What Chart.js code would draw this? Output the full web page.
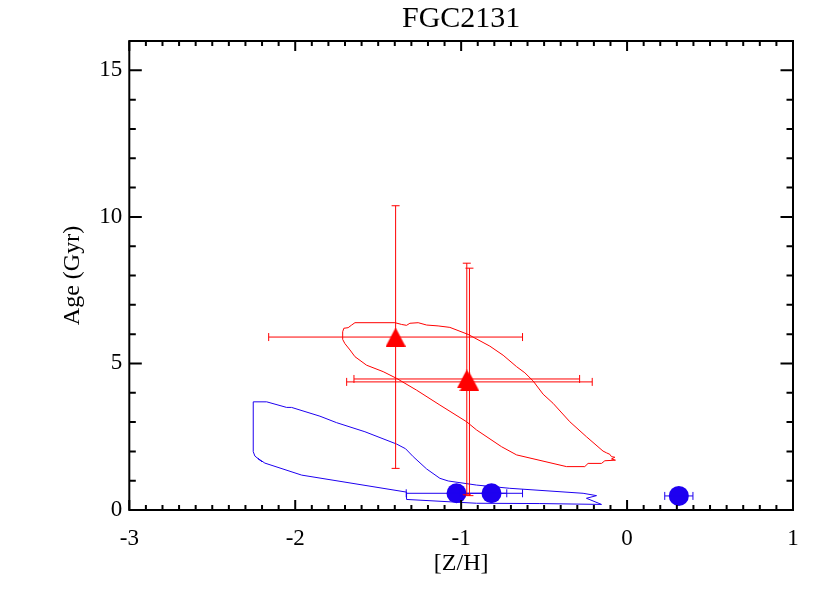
<!DOCTYPE html>
<html>
<head>
<meta charset="utf-8">
<script src="https://cdn.jsdelivr.net/npm/chart.js@4.4.0/dist/chart.umd.min.js"></script>
<style>
  html, body { margin: 0; padding: 0; background: #fff; }
  canvas { display: block; }
</style>
</head>
<body>
<canvas id="chart" width="830" height="593"></canvas>
<script>
// axis ticks
const xTicks = [-3, -2, -1, 0, 1];
const yTicks = [0, 5, 10, 15];

// red contour (closed)
const redContourX = [-1.640, -1.399, -1.359, -1.329, -1.309, -1.259, -1.208, -1.139, -1.068, -0.958,
  -0.827, -0.747, -0.666, -0.616, -0.566, -0.506, -0.446, -0.345, -0.245, -0.145,
  -0.124, -0.104, -0.094, -0.074, -0.094, -0.070, -0.134, -0.154, -0.235, -0.255,
  -0.365, -0.666, -0.757, -0.907, -0.967, -1.128, -1.269, -1.389, -1.470, -1.570,
  -1.640, -1.670, -1.701, -1.714, -1.714, -1.707, -1.681, -1.660, -1.640];
const redContourY = [6.39, 6.39, 6.33, 6.30, 6.37, 6.39, 6.31, 6.28, 6.23, 5.99,
  5.59, 5.28, 4.89, 4.68, 4.40, 3.95, 3.64, 3.01, 2.50, 2.01,
  1.95, 1.90, 1.82, 1.80, 1.74, 1.70, 1.68, 1.59, 1.59, 1.48,
  1.48, 1.88, 2.16, 2.73, 3.01, 3.58, 4.09, 4.49, 4.72, 4.94,
  5.23, 5.46, 5.68, 5.82, 6.08, 6.20, 6.22, 6.31, 6.39];

// blue contour (closed)
const blueContourX = [-2.253, -2.172, -2.052, -2.022, -1.851, -1.751, -1.580, -1.389, -1.335, -1.289,
  -1.208, -1.128, -1.078, -0.907, -0.707, -0.265, -0.184, -0.245, -0.154, -0.526,
  -0.907, -1.329, -1.329, -1.961, -2.183, -2.225, -2.201, -2.243, -2.253, -2.253];
const blueContourY = [3.69, 3.69, 3.50, 3.50, 3.20, 2.98, 2.67, 2.25, 2.09, 1.82,
  1.40, 1.08, 0.99, 0.85, 0.74, 0.57, 0.49, 0.40, 0.19, 0.22,
  0.23, 0.36, 0.61, 1.19, 1.60, 1.76, 1.65, 1.84, 1.99, 3.69];

// red triangles with errors
const triX = [-1.395, -0.966, -0.950];
const triY = [5.90, 4.47, 4.37];
const triXErr = [0.765, 0.68, 0.74];
const triYErr = [4.48, 3.95, 3.88];

// blue circles with errors
const circX = [-1.028, -0.817, 0.312];
const circY = [0.57, 0.57, 0.48];
const circXErr = [0.303, 0.187, 0.085];
const circYErr = [0, 0, 0];

const RED = '#ff0000';
const BLUE = '#1e00f0';
const FONT = 'Liberation Serif, Times New Roman, serif';

const pts = (xs, ys) => xs.map((v, i) => ({ x: v, y: ys[i] }));

// IDL-like filled triangle symbol (a bit taller than equilateral)
function triangleSymbol(w, h, color) {
  const c = document.createElement('canvas');
  c.width = w; c.height = h;
  const g = c.getContext('2d');
  g.fillStyle = color;
  g.beginPath();
  g.moveTo(w / 2, 0);
  g.lineTo(w, h);
  g.lineTo(0, h);
  g.closePath();
  g.fill();
  return c;
}

const errorBars = {
  id: 'errorBars',
  afterDatasetsDraw(chart) {
    const { ctx, scales: { x, y } } = chart;
    chart.data.datasets.forEach(ds => {
      if (!ds.errX) return;
      ctx.save();
      ctx.strokeStyle = ds.borderColor;
      ctx.lineWidth = 1;
      ds.data.forEach((p, i) => {
        const px = x.getPixelForValue(p.x);
        const py = y.getPixelForValue(p.y);
        const cap = 4;
        ctx.beginPath();
        if (ds.errX[i] > 0) {
          const x0 = x.getPixelForValue(p.x - ds.errX[i]);
          const x1 = x.getPixelForValue(p.x + ds.errX[i]);
          ctx.moveTo(x0, py); ctx.lineTo(x1, py);
          ctx.moveTo(x0, py - cap); ctx.lineTo(x0, py + cap);
          ctx.moveTo(x1, py - cap); ctx.lineTo(x1, py + cap);
        }
        if (ds.errY[i] > 0) {
          const y0 = y.getPixelForValue(p.y - ds.errY[i]);
          const y1 = y.getPixelForValue(p.y + ds.errY[i]);
          ctx.moveTo(px, y0); ctx.lineTo(px, y1);
          ctx.moveTo(px - cap, y0); ctx.lineTo(px + cap, y0);
          ctx.moveTo(px - cap, y1); ctx.lineTo(px + cap, y1);
        }
        ctx.stroke();
      });
      ctx.restore();
    });
  }
};

// IDL style box with inward ticks on all four sides, plus the title
const frame = {
  id: 'frame',
  afterDraw(chart) {
    const { ctx, chartArea: a, scales: { x, y } } = chart;
    ctx.save();
    ctx.strokeStyle = '#000';
    ctx.lineWidth = 2;
    ctx.strokeRect(a.left, a.top, a.right - a.left, a.bottom - a.top);
    ctx.beginPath();
    for (let i = 0; i <= 40; i++) {
      const v = x.min + i * 0.1;
      const px = x.getPixelForValue(v);
      const len = i % 10 === 0 ? 10 : 5;
      ctx.moveTo(px, a.bottom); ctx.lineTo(px, a.bottom - len);
      ctx.moveTo(px, a.top); ctx.lineTo(px, a.top + len);
    }
    for (let v = y.min; v <= y.max; v++) {
      const py = y.getPixelForValue(v);
      const len = v % 5 === 0 ? 12.5 : 6.5;
      ctx.moveTo(a.left, py); ctx.lineTo(a.left + len, py);
      ctx.moveTo(a.right, py); ctx.lineTo(a.right - len, py);
    }
    ctx.stroke();
    ctx.fillStyle = '#000';
    ctx.font = '30px ' + FONT;
    ctx.textAlign = 'center';
    ctx.textBaseline = 'middle';
    ctx.fillText('FGC2131', (a.left + a.right) / 2, 19);
    ctx.restore();
  }
};

new Chart(document.getElementById('chart'), {
  type: 'scatter',
  data: {
    datasets: [
      {
        data: pts(blueContourX, blueContourY),
        showLine: true, borderColor: BLUE, borderWidth: 1,
        pointRadius: 0, tension: 0, fill: false
      },
      {
        data: pts(redContourX, redContourY),
        showLine: true, borderColor: RED, borderWidth: 1,
        pointRadius: 0, tension: 0, fill: false
      },
      {
        data: pts(circX, circY),
        errX: circXErr, errY: circYErr,
        borderColor: BLUE, backgroundColor: BLUE,
        pointStyle: 'circle', pointRadius: 10, borderWidth: 0
      },
      {
        data: pts(triX, triY),
        errX: triXErr, errY: triYErr,
        borderColor: RED, backgroundColor: RED,
        pointStyle: triangleSymbol(20, 19, RED), pointRadius: 10, borderWidth: 0
      }
    ]
  },
  options: {
    responsive: false,
    animation: false,
    events: [],
    layout: { padding: { top: 41, right: 37, left: 0, bottom: 0 } },
    plugins: { legend: { display: false }, tooltip: { enabled: false }, title: { display: false } },
    scales: {
      x: {
        type: 'linear', min: -3, max: 1, position: 'bottom',
        afterFit: s => { s.height = 83; },
        afterBuildTicks: s => { s.ticks = xTicks.map(v => ({ value: v })); },
        grid: { display: false, drawTicks: false },
        border: { display: false },
        ticks: {
          color: '#000', font: { family: FONT, size: 23 }, padding: 15,
          maxRotation: 0, autoSkip: false, callback: v => String(v)
        },
        title: {
          display: true, text: '[Z/H]', color: '#000',
          font: { family: FONT, size: 24 }, padding: { top: 0, bottom: 15 }
        }
      },
      y: {
        type: 'linear', min: 0, max: 16,
        afterFit: s => { s.width = 129.3; },
        afterBuildTicks: s => { s.ticks = yTicks.map(v => ({ value: v })); },
        grid: { display: false, drawTicks: false },
        border: { display: false },
        ticks: {
          color: '#000', font: { family: FONT, size: 23 }, padding: 7,
          autoSkip: false, callback: v => String(v)
        },
        title: {
          display: true, text: 'Age (Gyr)', color: '#000',
          font: { family: FONT, size: 24 }, padding: { top: 58, bottom: 0 }
        }
      }
    }
  },
  plugins: [errorBars, frame]
});
</script>
</body>
</html>
